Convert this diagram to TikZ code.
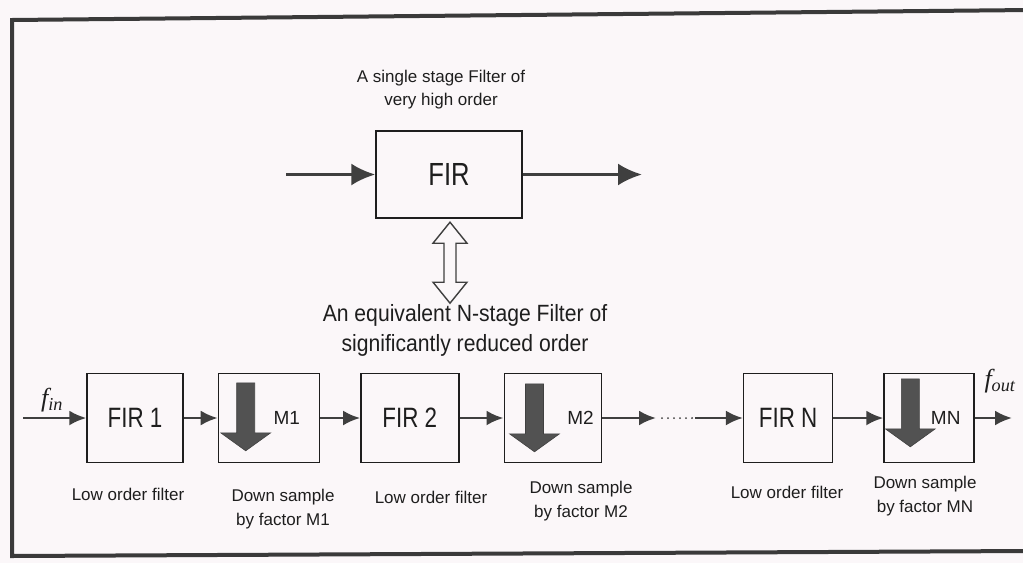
\documentclass[tikz,border=0pt]{standalone}
\usepackage{fontspec}
\setmainfont{Liberation Sans}
\newfontfamily\firfont[FakeStretch=0.8]{Liberation Sans}
\newfontfamily\eqvfont[FakeStretch=0.9]{Liberation Sans}
\newfontfamily\freqfont{Liberation Serif}
\usetikzlibrary{arrows.meta, positioning, calc}

\definecolor{paper}{HTML}{FBF7F9}
\definecolor{inkgray}{HTML}{1E1E1E}
\definecolor{linegray}{HTML}{3F3F3F}
\definecolor{arrowgray}{HTML}{525252}
\definecolor{framegray}{HTML}{3A3A3A}

\begin{document}
\begin{tikzpicture}[x=1pt, y=-1pt,
        block/.style={draw=inkgray, line width=1.4pt, minimum width=96pt, minimum height=89pt, inner sep=0pt, text=inkgray, font=\firfont\fontsize{28}{30}\selectfont},
        mlabel/.style={inner sep=0pt, text=inkgray, font=\fontsize{19}{22}\selectfont},
        caption/.style={inner sep=0pt, align=center, text=inkgray, font=\fontsize{17}{24}\selectfont},
        flabel/.style={inner sep=0pt, text=inkgray, font=\freqfont\itshape\fontsize{26}{28}\selectfont},
        toparrow/.style={draw=linegray, line width=3pt, -{Latex[length=24pt, width=22pt]}},
        rowarrow/.style={draw=linegray, line width=2.6pt, -{Latex[length=17pt, width=15pt]}},
        dsarrow/.pic={
            \fill[arrowgray, draw=black!75, line width=0.6pt] (-9,0) -- (9,0) -- (9,50) -- (25,50) -- (0,68) -- (-25,50) -- (-9,50) -- cycle;
        }
    ]
        \fill[paper] (0,0) rectangle (1023,563);
        \useasboundingbox (0,0) rectangle (1023,563);

        % frame of the scanned page
        \draw[framegray, line width=4pt] (1030,10) -- (12,20) -- (12,556) -- (1030,551);

        % single stage filter
        \node[block, minimum width=146pt, minimum height=87pt, font=\firfont\fontsize{32}{34}\selectfont] (fir) at (449,174.5) {FIR};
        \node[caption, font=\fontsize{17}{23}\selectfont] (firtitle) at (441,90) {A single stage Filter of\\very high order};
        \coordinate (topin) at (286,174.5);
        \coordinate (topout) at (642,174.5);
        \draw[toparrow] (topin) -- (fir.west);
        \draw[toparrow] (fir.east) -- (topout);

        % equivalence
        \coordinate (eqv) at ($(fir.south)+(1,44)$);
        \draw[draw=linegray, line width=1.4pt, fill=paper, shift={(eqv)}]
            (0,-40.5) -- (17,-19.5) -- (6,-19.5) -- (6,19.5) -- (17,19.5) -- (0,40.5)
            -- (-17,19.5) -- (-6,19.5) -- (-6,-19.5) -- (-17,-19.5) -- cycle;
        \node[caption, font=\eqvfont\fontsize{23.5}{30}\selectfont] (eqvtitle) at (465,330) {An equivalent N-stage Filter of\\significantly reduced order};

        % N-stage chain
        \node[block] (fir1) at (135,418) {FIR 1};
        \node[block, minimum width=101pt, right=34pt of fir1] (m1) {};
        \node[block, minimum width=98pt, right=40pt of m1] (fir2) {FIR 2};
        \node[block, minimum width=97pt, right=44pt of fir2] (m2) {};
        \node[block, minimum width=89pt, right=141pt of m2] (firn) {FIR N};
        \node[block, minimum width=90pt, right=50pt of firn] (mn) {};

        \pic at ($(m1.north west)+(28,10)$) {dsarrow};
        \pic at ($(m2.north west)+(31,11)$) {dsarrow};
        \pic at ($(mn.north west)+(27,6)$) {dsarrow};
        \node[mlabel, left=20pt of m1.east] (m1lbl) {M1};
        \node[mlabel, left=8pt of m2.east] (m2lbl) {M2};
        \node[mlabel, left=14pt of mn.east] (mnlbl) {MN};

        \coordinate (fin) at (23,418);
        \coordinate (dotsL) at (656,418);
        \coordinate (dotsR) at (695,418);
        \coordinate (fout) at (1012,418);
        \draw[rowarrow] (fin) -- (fir1.west);
        \draw[rowarrow] (fir1) -- (m1);
        \draw[rowarrow] (m1) -- (fir2);
        \draw[rowarrow] (fir2) -- (m2);
        \draw[rowarrow] (m2) -- (dotsL);
        \draw[linegray, line width=2pt, line cap=round, dash pattern=on 0pt off 6pt] ($(dotsL)+(6,0)$) -- (dotsR);
        \draw[rowarrow] (dotsR) -- (firn);
        \draw[rowarrow] (firn) -- (mn);
        \draw[rowarrow] (mn) -- (fout);

        \node[flabel] (finlbl) at (52,400) {f\textsubscript{in}};
        \node[flabel] (foutlbl) at (1000,381) {f\textsubscript{out}};

        % stage captions
        \node[caption] (cap1) at (128,494) {Low order filter};
        \node[caption] (capm1) at (283,509) {Down sample\\by factor M1};
        \node[caption] (cap2) at (431,497) {Low order filter};
        \node[caption] (capm2) at (581,501) {Down sample\\by factor M2};
        \node[caption] (capn) at (787,492) {Low order filter};
        \node[caption] (capmn) at (925,496) {Down sample\\by factor MN};
    \end{tikzpicture}
\end{document}
